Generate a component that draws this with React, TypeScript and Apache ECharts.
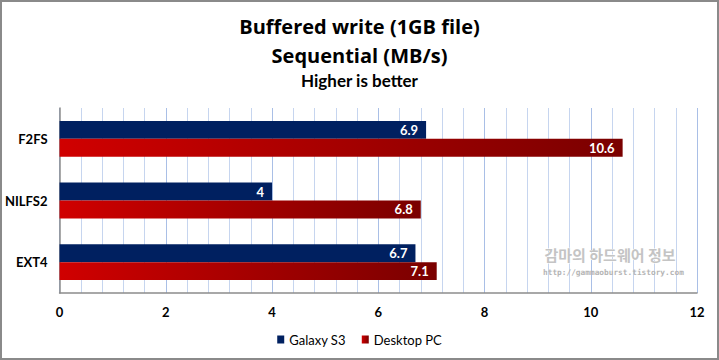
import React, { useEffect, useRef } from "react";
import * as echarts from "echarts";

const categories = ["F2FS", "NILFS2", "EXT4"];
const galaxyS3 = [6.9, 4, 6.7];
const desktopPC = [10.6, 6.8, 7.1];
const seriesNames = ["Galaxy S3", "Desktop PC"];
const titleLines = ["Buffered write (1GB file)", "Sequential (MB/s)", "Higher is better"];
const watermark = ["감마의 하드웨어 정보", "http://gammaoburst.tistory.com"];

const FONT = "Lato, 'Open Sans', sans-serif";
const TFONT = "'Open Sans', 'Noto Sans', sans-serif";

export default function App() {
  const ref = useRef<HTMLDivElement>(null);
  useEffect(() => {
    if (!ref.current) return;
    const chart = echarts.init(ref.current, null, { renderer: "svg" });
    const redGrad = new echarts.graphic.LinearGradient(0, 0, 1, 0, [
      { offset: 0, color: "#d00000" },
      { offset: 1, color: "#7a0000" },
    ]);
    const labelCfg = {
      show: true,
      position: "insideRight",
      distance: 8,
      color: "#fff",
      fontWeight: "bold",
      fontSize: 13,
      fontFamily: FONT,
    };
    chart.setOption({
      animation: false,
      backgroundColor: "#ffffff",
      textStyle: { fontFamily: FONT },
      title: [
        {
          text: titleLines[0],
          left: "center",
          top: 9,
          textStyle: { fontSize: 20, fontWeight: "bold", color: "#000", fontFamily: TFONT },
        },
        {
          text: titleLines[1],
          left: "center",
          top: 38,
          textStyle: { fontSize: 20, fontWeight: "bold", color: "#000", fontFamily: TFONT },
        },
        {
          text: titleLines[2],
          left: "center",
          top: 65,
          textStyle: { fontSize: 17, fontWeight: "bold", color: "#000", fontFamily: FONT },
        },
      ],
      legend: {
        bottom: 7,
        left: "center",
        itemWidth: 7,
        itemHeight: 8,
        itemGap: 16,
        icon: "rect",
        textStyle: { fontSize: 13, color: "#000", fontFamily: FONT },
        data: seriesNames,
      },
      grid: { left: 56, right: 20, top: 106, bottom: 65, containLabel: false },
      xAxis: {
        type: "value",
        min: 0,
        max: 12,
        interval: 2,
        axisLine: { show: true, lineStyle: { color: "#8c8c8c", width: 1.5 } },
        axisTick: { show: false },
        axisLabel: { color: "#000", fontWeight: "bold", fontSize: 13, margin: 12, fontFamily: FONT },
        splitLine: { show: true, lineStyle: { color: "#a9bfe6", width: 1 } },
        minorTick: { show: false, splitNumber: 5 },
        minorSplitLine: { show: true, lineStyle: { color: "#c6d5ef", width: 1 } },
      },
      yAxis: {
        type: "category",
        data: categories,
        inverse: true,
        axisLine: { show: true, lineStyle: { color: "#8c8c8c", width: 1.5 } },
        axisTick: { show: false },
        axisLabel: { color: "#000", fontWeight: "bold", fontSize: 13, margin: 12, fontFamily: FONT },
      },
      series: [
        {
          name: seriesNames[0],
          type: "bar",
          data: galaxyS3,
          barGap: "0%",
          barCategoryGap: "42%",
          itemStyle: { color: "#002060" },
          label: labelCfg,
        },
        {
          name: seriesNames[1],
          type: "bar",
          data: desktopPC,
          barGap: "0%",
          barCategoryGap: "42%",
          itemStyle: { color: redGrad },
          label: labelCfg,
        },
      ],
      graphic: [
        {
          type: "text",
          left: 542,
          top: 244,
          z: 10,
          style: {
            text: watermark[0],
            fontSize: 15,
            fontWeight: "bold",
            fill: "#c4c4c4",
            stroke: "#ffffff",
            lineWidth: 1,
            fontFamily: "'Noto Sans CJK KR', sans-serif",
          },
        },
        {
          type: "text",
          left: 541,
          top: 266,
          z: 10,
          style: {
            text: watermark[1],
            fontSize: 7.8,
            fontWeight: "bold",
            fill: "#b4b4b4",
            fontFamily: "'DejaVu Sans Mono', monospace",
          },
        },
      ],
    });
    return () => chart.dispose();
  }, []);
  return (
    <div
      style={{
        position: "fixed",
        left: 0,
        top: 0,
        width: 719,
        height: 360,
        boxSizing: "border-box",
        border: "2px solid #8a8a8a",
        background: "#fff",
      }}
    >
      <div ref={ref} style={{ width: 715, height: 356 }} />
    </div>
  );
}
